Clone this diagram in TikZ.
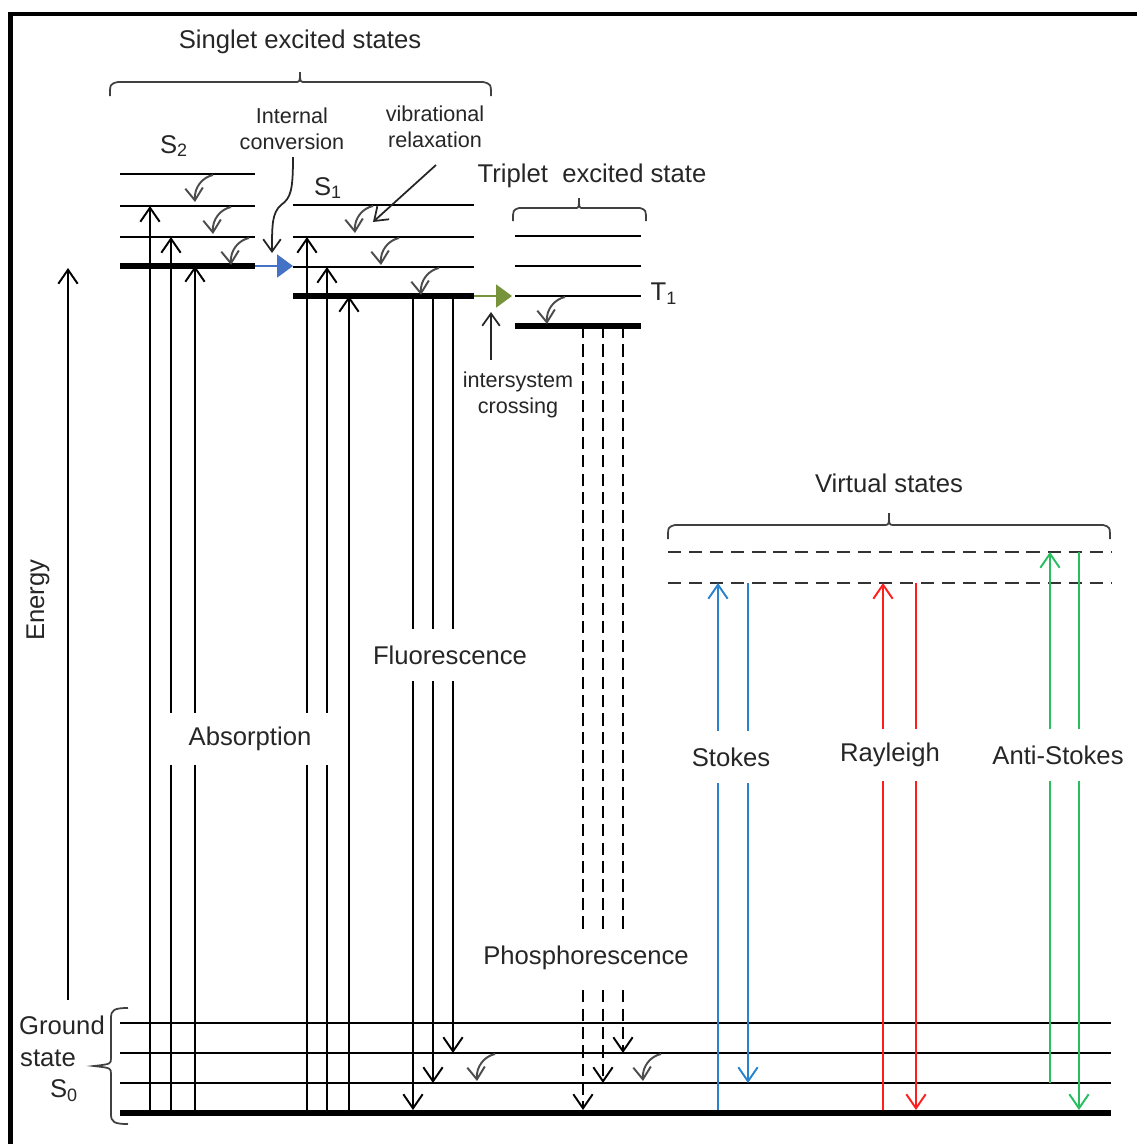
\documentclass[tikz,border=0pt]{standalone}
\usepackage{fontspec}
\setmainfont{Liberation Sans}
\usetikzlibrary{arrows.meta}
\definecolor{txt}{HTML}{262626}
\definecolor{icblue}{RGB}{68,114,196}
\definecolor{iscgreen}{RGB}{119,147,60}
\definecolor{stblue}{RGB}{40,130,205}
\definecolor{rayred}{RGB}{255,30,30}
\definecolor{asgreen}{RGB}{40,190,95}
\newcommand\FontBig{\fontsize{14.6pt}{17pt}\selectfont}
\newcommand\FontSmall{\fontsize{12.3pt}{14.5pt}\selectfont}
\begin{document}
\begin{tikzpicture}[x=0.02cm,y=-0.02cm,
  lvl/.style={line width=1.1pt},
  thk/.style={line width=3.4pt},
  arr/.style={line width=1.1pt,-{Straight Barb[length=8pt,width=11pt]}},
  pdash/.style={arr,dash pattern=on 7pt off 3.5pt},
  vdash/.style={line width=1.1pt,draw=black!80,dash pattern=on 7.5pt off 4.5pt},
  curly/.style={line width=1.1pt,draw=black!70,-{Straight Barb[length=7pt,width=10pt]}},
  ptr/.style={line width=1pt,draw=txt,-{Straight Barb[length=7pt,width=10pt]}},
  brace/.style={line width=1pt,draw=black!75},
  txtn/.style={font=\FontBig,text=txt,inner sep=0pt},
  small/.style={font=\FontSmall,text=txt,inner sep=0pt,align=center},
  lbl/.style={font=\FontBig,text=txt,fill=white,inner xsep=2pt,inner ysep=0pt,minimum height=30pt},
  curl/.pic={\draw[curly] (0,0) .. controls (-10,2) and (-19,12) .. (-18,27);}
]
\useasboundingbox (0,0) rectangle (1137,1144);
% frame
\draw[line width=2.3pt] (10.5,1144) -- (10.5,14) -- (1137,14);

% ---------- S2 levels
\draw[lvl] (120,174) -- (255,174);
\draw[lvl] (120,206) -- (255,206);
\draw[lvl] (120,237) -- (255,237);
\draw[thk] (120,266) -- (255,266);
% ---------- S1 levels
\draw[lvl] (293,205) -- (474,205);
\draw[lvl] (293,237) -- (474,237);
\draw[lvl] (293,267) -- (474,267);
\draw[thk] (293,296) -- (474,296);
% ---------- T levels
\draw[lvl] (515,236) -- (641,236);
\draw[lvl] (515,266) -- (641,266);
\draw[lvl] (515,296) -- (641,296);
\draw[thk] (515,326) -- (641,326);
% ---------- ground levels
\draw[lvl] (120,1023) -- (1111,1023);
\draw[lvl] (120,1053) -- (1111,1053);
\draw[lvl] (120,1083) -- (1111,1083);
\draw[thk] (120,1113) -- (1111,1113);
% ---------- virtual levels
\draw[vdash] (668,552) -- (1111,552);
\draw[vdash] (668,583) -- (1111,583);

% braces
\draw[brace] (110,96) .. controls (110,84) .. (118,82) -- (295,82) .. controls (300,82) .. (300,72) .. controls (300,82) .. (305,82) -- (483,82) .. controls (491,84) .. (491,96);
\draw[brace] (513,221) .. controls (513,210) .. (519,208) -- (575,208) .. controls (579,208) .. (579,198) .. controls (579,208) .. (583,208) -- (640,208) .. controls (646,210) .. (646,221);
\draw[brace] (668,539) .. controls (668,527) .. (675,525) -- (884,525) .. controls (889,525) .. (889,513) .. controls (889,525) .. (894,525) -- (1103,525) .. controls (1110,527) .. (1110,539);
\draw[brace] (128,1008) .. controls (114,1008) and (111,1010) .. (111,1018) -- (111,1058) .. controls (111,1064) .. (94,1066) .. controls (111,1068) .. (111,1074) -- (111,1114) .. controls (111,1122) and (114,1124) .. (128,1124);

% energy axis
\draw[arr] (68,1000) -- (68,268);

% absorption
\draw[arr] (150,1113) -- (150,206);
\draw[arr] (171,1113) -- (171,237);
\draw[arr] (195,1113) -- (195,266);
\draw[arr] (307,1113) -- (307,237);
\draw[arr] (327,1113) -- (327,267);
\draw[arr] (349,1113) -- (349,296);
% fluorescence
\draw[arr] (413,296) -- (413,1110);
\draw[arr] (433,296) -- (433,1083);
\draw[arr] (453,296) -- (453,1053);
% phosphorescence
\draw[pdash] (583,326) -- (583,1110);
\draw[pdash] (603,326) -- (603,1083);
\draw[pdash] (623,326) -- (623,1053);
% Raman / Rayleigh
\draw[arr,draw=stblue] (718,1110) -- (718,583);
\draw[arr,draw=stblue] (748,583) -- (748,1083);
\draw[arr,draw=rayred] (883,1110) -- (883,583);
\draw[arr,draw=rayred] (916,583) -- (916,1110);
\draw[arr,draw=asgreen] (1050,1083) -- (1050,552);
\draw[arr,draw=asgreen] (1079,552) -- (1079,1110);

% internal conversion / intersystem crossing
\draw[line width=1pt,draw=icblue,-{Triangle[length=9pt,width=13pt]}] (255,266) -- (293,266);
\draw[line width=1pt,draw=iscgreen,-{Triangle[length=9pt,width=13pt]}] (474,296) -- (512,296);

% vibrational relaxation curls
\pic at (213,175) {curl};
\pic at (231,207) {curl};
\pic at (249,238) {curl};
\pic at (373,206) {curl};
\pic at (399,238) {curl};
\pic at (439,268) {curl};
\pic at (565,297) {curl};
\pic at (495,1054) {curl};
\pic at (661,1054) {curl};

% pointers
\draw[ptr] (293,157) .. controls (293,190) and (291,198) .. (281,205) .. controls (272,213) and (272,225) .. (272,253);
\draw[ptr] (436,165) -- (373,222);
\draw[ptr] (491,360) -- (491,312);

% texts
\node[txtn] (singlet) at (300,42) {Singlet excited states};
\node[txtn] (s2) at (174,146) {S\textsubscript{2}};
\node[txtn] (s1) at (328,188) {S\textsubscript{1}};
\node[small] (ic) at (292,129) {Internal\\conversion};
\node[small] (vr) at (435,127) {vibrational\\relaxation};
\node[txtn] (triplet) at (592,176) {Triplet\ \ excited state};
\node[txtn] (t1) at (664,294) {T\textsubscript{1}};
\node[small] (isc) at (518,395) {intersystem\\crossing};
\node[txtn,rotate=90] (energy) at (38,600) {Energy};
\node[lbl] (fluo) at (450,655) {Fluorescence};
\node[lbl,minimum width=100pt] (abs) at (250,739) {Absorption};
\node[lbl] (phos) at (586,958) {Phosphorescence};
\node[txtn] (virt) at (889,483) {Virtual states};
\node[lbl] (stokes) at (731,757) {Stokes};
\node[lbl] (ray) at (890,755) {Rayleigh};
\node[lbl] (astokes) at (1058,755) {Anti-Stokes};
\node[txtn] (gr1) at (62,1025) {Ground};
\node[txtn] (gr2) at (48,1058) {state};
\node[txtn] (gr3) at (64,1091) {S\textsubscript{0}};
\end{tikzpicture}
\end{document}
